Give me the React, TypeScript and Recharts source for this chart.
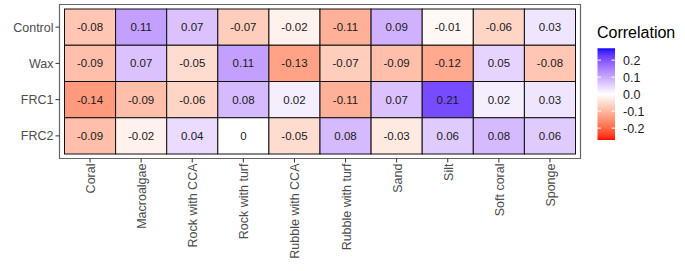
import React from "react";
import {
  ScatterChart,
  Scatter,
  XAxis,
  YAxis,
  ReferenceArea,
} from "recharts";

// substrate categories (columns) and treatment groups (rows, top to bottom)
const categories = [
  "Coral",
  "Macroalgae",
  "Rock with CCA",
  "Rock with turf",
  "Rubble with CCA",
  "Rubble with turf",
  "Sand",
  "Silt",
  "Soft coral",
  "Sponge",
];
const groups = ["Control", "Wax", "FRC1", "FRC2"];

const control = [-0.08, 0.11, 0.07, -0.07, -0.02, -0.11, 0.09, -0.01, -0.06, 0.03];
const wax = [-0.09, 0.07, -0.05, 0.11, -0.13, -0.07, -0.09, -0.12, 0.05, -0.08];
const frc1 = [-0.14, -0.09, -0.06, 0.08, 0.02, -0.11, 0.07, 0.21, 0.02, 0.03];
const frc2 = [-0.09, -0.02, 0.04, 0, -0.05, 0.08, -0.03, 0.06, 0.08, 0.06];

const legendTicks = [0.2, 0.1, 0.0, -0.1, -0.2];

// layout
const W = 685;
const H = 271;
const PLOT_LEFT = 59.5;
const PLOT_RIGHT = 580.5;
const PLOT_TOP = 4.5;
const PLOT_BOTTOM = 158.5;
const PAD_X = 5;
const PAD_Y = 4.5;
const CELL_W = (PLOT_RIGHT - PLOT_LEFT - 2 * PAD_X) / categories.length;
const CELL_H = (PLOT_BOTTOM - PLOT_TOP - 2 * PAD_Y) / groups.length;
const X_DOMAIN: [number, number] = [
  -0.5 - PAD_X / CELL_W,
  categories.length - 0.5 + PAD_X / CELL_W,
];
const Y_DOMAIN: [number, number] = [
  -0.5 - PAD_Y / CELL_H,
  groups.length - 0.5 + PAD_Y / CELL_H,
];

const FONT = '"Liberation Sans", Arial, sans-serif';
const LIMIT = 0.27;

// --- colour scale, interpolated in CIELAB like ggplot's gradient2 ---
function toLin(c: number) {
  c /= 255;
  return c <= 0.04045 ? c / 12.92 : Math.pow((c + 0.055) / 1.055, 2.4);
}
function fromLin(c: number) {
  const v = c <= 0.0031308 ? 12.92 * c : 1.055 * Math.pow(c, 1 / 2.4) - 0.055;
  return Math.round(Math.max(0, Math.min(1, v)) * 255);
}
function rgbToLab(rgb: number[]) {
  const [r, g, b] = rgb.map(toLin);
  const x = (0.4124 * r + 0.3576 * g + 0.1805 * b) / 0.95047;
  const y = 0.2126 * r + 0.7152 * g + 0.0722 * b;
  const z = (0.0193 * r + 0.1192 * g + 0.9505 * b) / 1.08883;
  const f = (t: number) => (t > 0.008856 ? Math.cbrt(t) : 7.787 * t + 16 / 116);
  const fx = f(x), fy = f(y), fz = f(z);
  return [116 * fy - 16, 500 * (fx - fy), 200 * (fy - fz)];
}
function labToRgb(lab: number[]) {
  const [L, a, bb] = lab;
  const fy = (L + 16) / 116;
  const fx = fy + a / 500;
  const fz = fy - bb / 200;
  const inv = (t: number) => (t ** 3 > 0.008856 ? t ** 3 : (t - 16 / 116) / 7.787);
  const x = inv(fx) * 0.95047;
  const y = inv(fy);
  const z = inv(fz) * 1.08883;
  const r = 3.2406 * x - 1.5372 * y - 0.4986 * z;
  const g = -0.9689 * x + 1.8758 * y + 0.0415 * z;
  const b = 0.0557 * x - 0.204 * y + 1.057 * z;
  return `rgb(${fromLin(r)},${fromLin(g)},${fromLin(b)})`;
}
const LAB_WHITE = rgbToLab([255, 255, 255]);
const LAB_BLUE = rgbToLab([0, 0, 255]);
const LAB_RED = rgbToLab([255, 0, 0]);

function fillFor(v: number) {
  const t = Math.max(-1, Math.min(1, v / LIMIT));
  const end = t >= 0 ? LAB_BLUE : LAB_RED;
  const k = Math.abs(t);
  return labToRgb(LAB_WHITE.map((w, i) => w + (end[i] - w) * k));
}

// flatten rows into heatmap cells
const rows = [control, wax, frc1, frc2];
const cells = rows.flatMap((vals, gi) =>
  vals.map((v, ci) => ({ x: ci, y: groups.length - 1 - gi, v }))
);

const Tile = (props: any) => {
  const { cx, cy, payload } = props;
  if (cx == null || cy == null) return null;
  return (
    <g>
      <rect
        x={cx - CELL_W / 2}
        y={cy - CELL_H / 2}
        width={CELL_W}
        height={CELL_H}
        fill={fillFor(payload.v)}
        stroke="#111"
        strokeWidth={1}
      />
      <text
        x={cx}
        y={cy + 4}
        textAnchor="middle"
        fontSize={11.5}
        fontFamily={FONT}
        fill="#1a1a1a"
      >
        {String(payload.v)}
      </text>
    </g>
  );
};

const XTick = (props: any) => {
  const { x, y, payload } = props;
  const bx = x + 5;
  return (
    <text
      x={bx}
      y={y}
      transform={`rotate(-90, ${bx}, ${y})`}
      textAnchor="end"
      fontSize={12.5}
      fontFamily={FONT}
      fill="#4d4d4d"
    >
      {categories[payload.value]}
    </text>
  );
};

const YTick = (props: any) => {
  const { x, y, payload } = props;
  return (
    <text
      x={x}
      y={y + 4.5}
      textAnchor="end"
      fontSize={12.5}
      fontFamily={FONT}
      fill="#4d4d4d"
    >
      {groups[groups.length - 1 - payload.value]}
    </text>
  );
};

// colorbar legend, ggplot style
const BAR_X = 597.5;
const BAR_W = 17.5;
const BAR_TOP = 48.3;
const BAR_BOTTOM = 140;
const barY = (v: number) =>
  BAR_TOP + ((LIMIT - v) / (2 * LIMIT)) * (BAR_BOTTOM - BAR_TOP);

const gradientStops = Array.from({ length: 41 }, (_, i) => {
  const v = LIMIT - (i / 40) * 2 * LIMIT;
  return { offset: i / 40, color: fillFor(v) };
});

const ColorLegend = () => (
  <svg
    width={W}
    height={H}
    style={{ position: "absolute", left: 0, top: 0, pointerEvents: "none" }}
  >
    <defs>
      <linearGradient id="corrGrad" x1="0" y1="0" x2="0" y2="1">
        {gradientStops.map((s, i) => (
          <stop key={i} offset={s.offset} stopColor={s.color} />
        ))}
      </linearGradient>
    </defs>
    <text x={597} y={37.5} fontSize={16} fontFamily={FONT} fill="#000">
      Correlation
    </text>
    <rect
      x={BAR_X}
      y={BAR_TOP}
      width={BAR_W}
      height={BAR_BOTTOM - BAR_TOP}
      fill="url(#corrGrad)"
    />
    {legendTicks.map((t) => (
      <g key={t}>
        <line x1={BAR_X} x2={BAR_X + 3.5} y1={barY(t)} y2={barY(t)} stroke="#fff" strokeWidth={1} />
        <line
          x1={BAR_X + BAR_W - 3.5}
          x2={BAR_X + BAR_W}
          y1={barY(t)}
          y2={barY(t)}
          stroke="#fff"
          strokeWidth={1}
        />
        <text x={623} y={barY(t) + 4.5} fontSize={12.5} fontFamily={FONT} fill="#1a1a1a">
          {t.toFixed(1)}
        </text>
      </g>
    ))}
  </svg>
);

export default function App() {
  return (
    <div
      style={{
        position: "absolute",
        left: 0,
        top: 0,
        width: W,
        height: H,
        background: "#fff",
      }}
    >
      <ScatterChart
        width={W}
        height={H}
        margin={{
          top: PLOT_TOP,
          right: W - PLOT_RIGHT,
          bottom: 12.5,
          left: 0,
        }}
      >
        <XAxis
          type="number"
          dataKey="x"
          domain={X_DOMAIN}
          ticks={categories.map((_, i) => i)}
          interval={0}
          axisLine={false}
          tickSize={4}
          tickMargin={1}
          tickLine={{ stroke: "#333" }}
          tick={<XTick />}
          height={H - PLOT_BOTTOM - 12.5}
          allowDataOverflow
        />
        <YAxis
          type="number"
          dataKey="y"
          domain={Y_DOMAIN}
          ticks={groups.map((_, i) => i)}
          interval={0}
          axisLine={false}
          tickSize={4}
          tickMargin={2}
          tickLine={{ stroke: "#333" }}
          tick={<YTick />}
          width={PLOT_LEFT}
          allowDataOverflow
        />
        <ReferenceArea
          x1={X_DOMAIN[0]}
          x2={X_DOMAIN[1]}
          y1={Y_DOMAIN[0]}
          y2={Y_DOMAIN[1]}
          fill="none"
          fillOpacity={0}
          stroke="#666"
          strokeWidth={1.2}
          ifOverflow="visible"
        />
        <Scatter data={cells} shape={<Tile />} isAnimationActive={false} />
      </ScatterChart>
      <ColorLegend />
    </div>
  );
}
